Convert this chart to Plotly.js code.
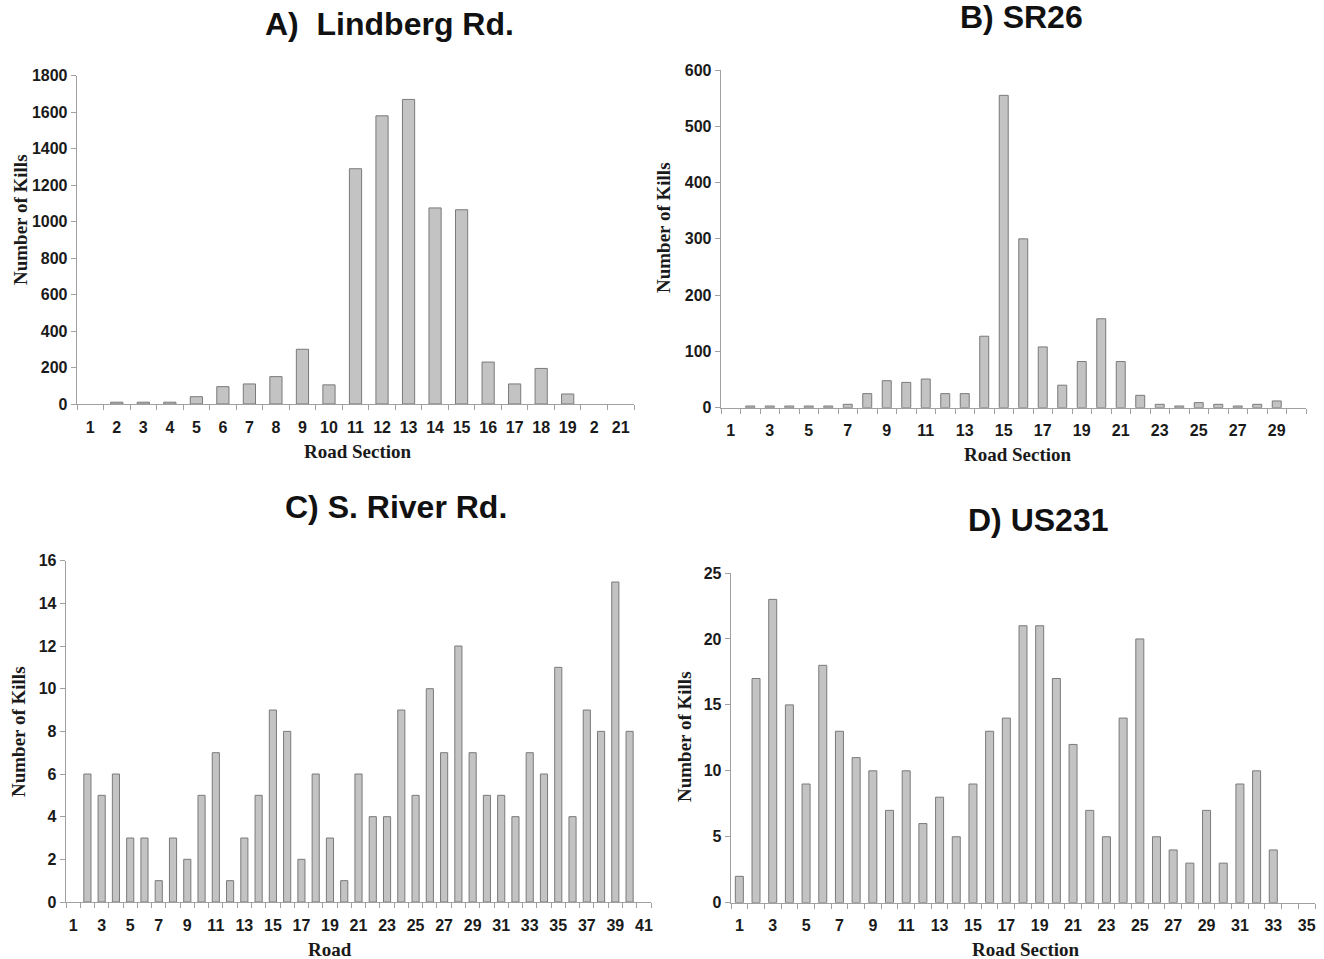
<!DOCTYPE html>
<html>
<head>
<meta charset="utf-8">
<script src="https://cdn.plot.ly/plotly-3.0.1.min.js"></script>
<style>
  html, body { margin: 0; padding: 0; background: #ffffff; }
  #chart { width: 1324px; height: 959px; }
</style>
</head>
<body>
<div id="chart"></div>
<script>
// ---- Data ----
const sectionsA = [1,2,3,4,5,6,7,8,9,10,11,12,13,14,15,16,17,18,19,20,21];
const killsA = [0,10,10,10,40,95,110,150,300,105,1290,1580,1670,1075,1065,230,110,195,55,0,0];
const tickLabelsA = ["1","2","3","4","5","6","7","8","9","10","11","12","13","14","15","16","17","18","19","2","21"];

const sectionsB = [1,2,3,4,5,6,7,8,9,10,11,12,13,14,15,16,17,18,19,20,21,22,23,24,25,26,27,28,29,30];
const killsB = [0,3,3,3,3,3,6,25,48,45,51,25,25,127,555,300,108,40,82,158,82,22,6,3,9,6,3,6,12,0];
const tickValsB = [1,3,5,7,9,11,13,15,17,19,21,23,25,27,29];
const tickLabelsB = ["1","3","5","7","9","11","13","15","17","19","21","23","25","27","29"];

const sectionsC = [1,2,3,4,5,6,7,8,9,10,11,12,13,14,15,16,17,18,19,20,21,22,23,24,25,26,27,28,29,30,31,32,33,34,35,36,37,38,39,40,41];
const killsC = [0,6,5,6,3,3,1,3,2,5,7,1,3,5,9,8,2,6,3,1,6,4,4,9,5,10,7,12,7,5,5,4,7,6,11,4,9,8,15,8,0];
const tickValsC = [1,3,5,7,9,11,13,15,17,19,21,23,25,27,29,31,33,35,37,39,41];
const tickLabelsC = ["1","3","5","7","9","11","13","15","17","19","21","23","25","27","29","31","33","35","37","39","41"];

const sectionsD = [1,2,3,4,5,6,7,8,9,10,11,12,13,14,15,16,17,18,19,20,21,22,23,24,25,26,27,28,29,30,31,32,33,34,35];
const killsD = [2,17,23,15,9,18,13,11,10,7,10,6,8,5,9,13,14,21,21,17,12,7,5,14,20,5,4,3,7,3,9,10,4,0,0];
const tickValsD = [1,3,5,7,9,11,13,15,17,19,21,23,25,27,29,31,33,35];
const tickLabelsD = ["1","3","5","7","9","11","13","15","17","19","21","23","25","27","29","31","33","35"];

const panelTitles = ["A)  Lindberg Rd.", "B) SR26", "C) S. River Rd.", "D) US231"];
const yTitle = "Number of Kills";
const xTitles = ["Road Section", "Road Section", "Road", "Road Section"];

// ---- Styling ----
const W = 1324, H = 959;
const px = x => x / W;
const py = y => 1 - y / H;
const barFill = "#c3c3c3";
const barLine = "#7a7a7a";
const axisGray = "#a0a0a0";
const tickFont = { family: "Liberation Sans, Arial, sans-serif", size: 16, color: "#1a1a1a", weight: "bold" };
const serifFont = { family: "Liberation Serif, Times New Roman, serif", size: 19, color: "#1a1a1a", weight: "bold" };
const headFont = { family: "Liberation Sans, Arial, sans-serif", size: 32, color: "#111111", weight: "bold" };

function barTrace(x, y, xa, ya, w) {
  return {
    type: "bar", x: x, y: y, xaxis: xa, yaxis: ya, width: w,
    marker: { color: barFill, line: { color: barLine, width: y.map(v => v > 0 ? 1 : 0) } },
    showlegend: false, hoverinfo: "x+y"
  };
}

function xAxis(domain, n, tv, tt, anchor) {
  return {
    domain: domain, anchor: anchor, range: [0.5, n + 0.5], fixedrange: true,
    showline: true, linecolor: axisGray, linewidth: 1.3,
    showgrid: false, zeroline: false,
    tickmode: "array", tickvals: tv, ticktext: tt, ticks: "",
    ticklabelstandoff: 8,
    tickfont: tickFont,
    minor: { ticks: "outside", tick0: 0.5, dtick: 1, ticklen: 5, tickcolor: axisGray, tickwidth: 1, showgrid: false }
  };
}

function yAxis(domain, max, dt, anchor) {
  return {
    domain: domain, anchor: anchor, range: [0, max], fixedrange: true,
    showline: true, linecolor: axisGray, linewidth: 1.3,
    showgrid: false, zeroline: false,
    tick0: 0, dtick: dt, ticks: "outside", ticklen: 5, tickcolor: axisGray, tickwidth: 1,
    tickfont: tickFont
  };
}

const data = [
  barTrace(sectionsA, killsA, "x", "y", 0.46),
  barTrace(sectionsB, killsB, "x2", "y2", 0.46),
  barTrace(sectionsC, killsC, "x3", "y3", 0.5),
  barTrace(sectionsD, killsD, "x4", "y4", 0.48)
];

function ann(text, x, y, font, angle) {
  return { text: text, xref: "paper", yref: "paper", x: px(x), y: py(y),
           xanchor: "center", yanchor: "middle", showarrow: false, font: font, textangle: angle || 0 };
}

const layout = {
  width: W, height: H, autosize: false,
  margin: { l: 0, r: 0, t: 0, b: 0 },
  paper_bgcolor: "#ffffff", plot_bgcolor: "#ffffff",
  bargap: 0.5,
  xaxis:  xAxis([px(77), px(634)], sectionsA.length, sectionsA, tickLabelsA, "y"),
  yaxis:  yAxis([py(404), py(75.7)], 1800, 200, "x"),
  xaxis2: xAxis([px(721), px(1306)], sectionsB.length, tickValsB, tickLabelsB, "y2"),
  yaxis2: yAxis([py(407.7), py(70)], 600, 100, "x2"),
  xaxis3: xAxis([px(66), px(651)], sectionsC.length, tickValsC, tickLabelsC, "y3"),
  yaxis3: yAxis([py(902), py(560.7)], 16, 2, "x3"),
  xaxis4: xAxis([px(731), px(1315)], sectionsD.length, tickValsD, tickLabelsD, "y4"),
  yaxis4: yAxis([py(902.7), py(573)], 25, 5, "x4"),
  annotations: [
    ann(panelTitles[0], 389, 24, headFont),
    ann(panelTitles[1], 1021, 17, headFont),
    ann(panelTitles[2], 396, 507, headFont),
    ann(panelTitles[3], 1038, 520, headFont),
    ann(yTitle, 21, 220, serifFont, -90),
    ann(yTitle, 664, 228, serifFont, -90),
    ann(yTitle, 18, 732, serifFont, -90),
    ann(yTitle, 684, 737, serifFont, -90),
    ann(xTitles[0], 358, 451, serifFont),
    ann(xTitles[1], 1018, 454, serifFont),
    ann(xTitles[2], 330, 949, serifFont),
    ann(xTitles[3], 1026, 949, serifFont)
  ]
};

Plotly.newPlot("chart", data, layout, { staticPlot: true, displayModeBar: false });
</script>
</body>
</html>
